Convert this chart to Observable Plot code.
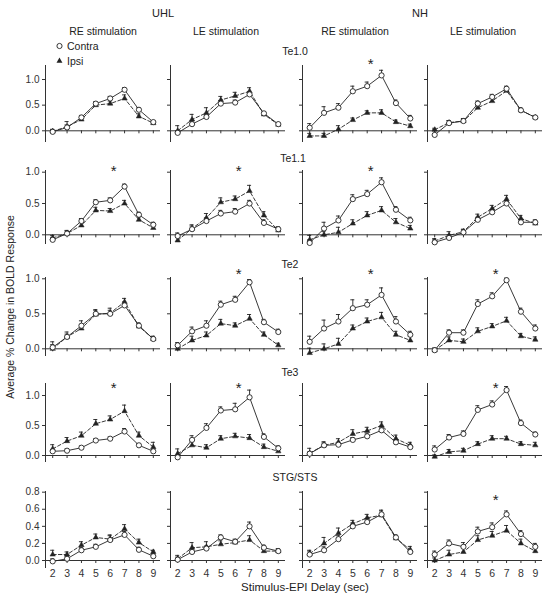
<!DOCTYPE html>
<html>
<head>
<meta charset="utf-8">
<script src="https://cdn.jsdelivr.net/npm/d3@7"></script>
<script src="https://cdn.jsdelivr.net/npm/@observablehq/plot@0.6"></script>
<style>
  html, body { margin: 0; padding: 0; background: white; }
  #chart { position: relative; width: 553px; height: 600px; font-family: "Liberation Sans", Arial, sans-serif; color: #222; overflow: hidden; }
  .lbl { position: absolute; white-space: nowrap; font-size: 10.5px; line-height: 1; transform: translate(-50%, -50%); }
  .lbl.left { transform: translate(0, -50%); }
</style>
</head>
<body>
<div id="chart"></div>
<script>
// ---------------- data ----------------
const delays = [2, 3, 4, 5, 6, 7, 8, 9];
const groups = ["UHL", "NH"];
const columnTitles = ["RE stimulation", "LE stimulation", "RE stimulation", "LE stimulation"];
const regions = ["Te1.0", "Te1.1", "Te2", "Te3", "STG/STS"];
const seriesNames = ["Contra", "Ipsi"];
const yTicksMain = [0, 0.5, 1.0];
const yTicksSTG = [0, 0.2, 0.4, 0.6, 0.8];
const yAxisTitle = "Average % Change in BOLD Response";
const xAxisTitle = "Stimulus-EPI Delay (sec)";

// each region: 4 panels (UHL RE, UHL LE, NH RE, NH LE) x 8 delays
const te10Contra = [
  [-0.02, 0.065, 0.26, 0.53, 0.63, 0.80, 0.41, 0.17],
  [-0.04, 0.13, 0.27, 0.53, 0.55, 0.71, 0.34, 0.13],
  [0.06, 0.35, 0.45, 0.77, 0.87, 1.08, 0.54, 0.24],
  [-0.08, 0.15, 0.19, 0.53, 0.66, 0.82, 0.40, 0.26]];
const te10ContraSE = [
  [0.04, 0.05, 0.04, 0.04, 0.04, 0.04, 0.04, 0.03],
  [0.04, 0.05, 0.05, 0.06, 0.05, 0.05, 0.03, 0.03],
  [0.08, 0.12, 0.08, 0.10, 0.08, 0.10, 0.06, 0.06],
  [0.10, 0.05, 0.05, 0.05, 0.05, 0.05, 0.04, 0.04]];
const te10Ipsi = [
  [-0.01, 0.08, 0.22, 0.50, 0.53, 0.63, 0.28, 0.15],
  [0.00, 0.22, 0.35, 0.60, 0.68, 0.77, 0.32, 0.12],
  [-0.10, -0.10, 0.03, 0.21, 0.35, 0.35, 0.17, 0.09],
  [0.02, 0.16, 0.19, 0.45, 0.58, 0.78, 0.40, 0.26]];
const te10IpsiSE = [
  [0.04, 0.10, 0.05, 0.05, 0.05, 0.07, 0.05, 0.03],
  [0.10, 0.10, 0.10, 0.07, 0.07, 0.07, 0.04, 0.03],
  [0.05, 0.05, 0.07, 0.04, 0.04, 0.06, 0.04, 0.04],
  [0.03, 0.04, 0.04, 0.05, 0.05, 0.05, 0.04, 0.03]];

const te11Contra = [
  [-0.08, 0.02, 0.22, 0.52, 0.55, 0.77, 0.32, 0.16],
  [-0.02, 0.09, 0.22, 0.34, 0.37, 0.50, 0.19, 0.09],
  [-0.13, 0.10, 0.23, 0.57, 0.65, 0.84, 0.40, 0.23],
  [-0.12, -0.05, 0.04, 0.24, 0.36, 0.50, 0.20, 0.20]];
const te11ContraSE = [
  [0.04, 0.04, 0.04, 0.04, 0.04, 0.04, 0.04, 0.04],
  [0.05, 0.05, 0.05, 0.05, 0.05, 0.05, 0.05, 0.04],
  [0.05, 0.10, 0.07, 0.07, 0.06, 0.07, 0.05, 0.05],
  [0.04, 0.05, 0.04, 0.04, 0.04, 0.05, 0.04, 0.04]];
const te11Ipsi = [
  [-0.05, 0.02, 0.15, 0.39, 0.38, 0.50, 0.24, 0.11],
  [-0.09, 0.10, 0.27, 0.52, 0.57, 0.70, 0.31, 0.07],
  [-0.08, 0.00, 0.04, 0.18, 0.31, 0.39, 0.20, 0.10],
  [-0.10, -0.01, 0.05, 0.28, 0.42, 0.57, 0.26, 0.18]];
const te11IpsiSE = [
  [0.04, 0.05, 0.05, 0.05, 0.04, 0.05, 0.04, 0.04],
  [0.10, 0.06, 0.07, 0.07, 0.05, 0.09, 0.06, 0.04],
  [0.07, 0.05, 0.08, 0.06, 0.06, 0.06, 0.06, 0.05],
  [0.04, 0.06, 0.04, 0.05, 0.05, 0.06, 0.05, 0.04]];

const te2Contra = [
  [0.02, 0.17, 0.33, 0.50, 0.50, 0.62, 0.33, 0.14],
  [0.05, 0.25, 0.33, 0.63, 0.70, 0.95, 0.38, 0.24],
  [0.10, 0.29, 0.39, 0.58, 0.63, 0.77, 0.39, 0.20],
  [-0.02, 0.23, 0.23, 0.64, 0.75, 0.98, 0.53, 0.29]];
const te2ContraSE = [
  [0.04, 0.04, 0.07, 0.05, 0.05, 0.05, 0.04, 0.04],
  [0.04, 0.06, 0.07, 0.05, 0.05, 0.04, 0.04, 0.04],
  [0.08, 0.12, 0.10, 0.12, 0.07, 0.10, 0.07, 0.05],
  [0.03, 0.04, 0.04, 0.06, 0.05, 0.03, 0.05, 0.05]];
const te2Ipsi = [
  [0.00, 0.17, 0.29, 0.49, 0.51, 0.67, 0.32, 0.14],
  [0.00, 0.12, 0.19, 0.36, 0.33, 0.43, 0.20, 0.05],
  [-0.06, 0.00, 0.07, 0.29, 0.39, 0.45, 0.20, 0.12],
  [-0.02, 0.12, 0.10, 0.25, 0.32, 0.40, 0.18, 0.13]];
const te2IpsiSE = [
  [0.10, 0.07, 0.06, 0.07, 0.07, 0.05, 0.04, 0.03],
  [0.04, 0.06, 0.05, 0.06, 0.04, 0.06, 0.04, 0.03],
  [0.07, 0.07, 0.08, 0.05, 0.05, 0.07, 0.05, 0.06],
  [0.03, 0.05, 0.04, 0.05, 0.04, 0.05, 0.04, 0.04]];

const te3Contra = [
  [0.07, 0.08, 0.13, 0.25, 0.28, 0.40, 0.17, 0.07],
  [-0.03, 0.26, 0.46, 0.75, 0.77, 0.97, 0.31, 0.12],
  [0.03, 0.17, 0.18, 0.26, 0.32, 0.42, 0.22, 0.14],
  [0.10, 0.30, 0.36, 0.76, 0.85, 1.09, 0.54, 0.35]];
const te3ContraSE = [
  [0.03, 0.03, 0.03, 0.03, 0.03, 0.05, 0.03, 0.03],
  [0.03, 0.07, 0.07, 0.06, 0.10, 0.12, 0.05, 0.04],
  [0.03, 0.04, 0.04, 0.04, 0.04, 0.04, 0.04, 0.04],
  [0.06, 0.05, 0.05, 0.07, 0.06, 0.06, 0.05, 0.04]];
const te3Ipsi = [
  [0.11, 0.24, 0.33, 0.53, 0.60, 0.74, 0.33, 0.14],
  [0.03, 0.17, 0.13, 0.28, 0.32, 0.29, 0.14, 0.07],
  [0.04, 0.17, 0.22, 0.36, 0.41, 0.50, 0.28, 0.17],
  [-0.02, 0.06, 0.08, 0.19, 0.28, 0.28, 0.19, 0.17]];
const te3IpsiSE = [
  [0.07, 0.06, 0.06, 0.07, 0.06, 0.10, 0.06, 0.08],
  [0.08, 0.06, 0.05, 0.05, 0.05, 0.06, 0.05, 0.04],
  [0.08, 0.06, 0.06, 0.07, 0.06, 0.06, 0.06, 0.05],
  [0.03, 0.04, 0.04, 0.04, 0.05, 0.04, 0.04, 0.05]];

const stgContra = [
  [-0.01, 0.02, 0.12, 0.16, 0.24, 0.30, 0.125, 0.05],
  [0.01, 0.10, 0.14, 0.27, 0.22, 0.40, 0.15, 0.11],
  [0.07, 0.12, 0.25, 0.40, 0.45, 0.54, 0.27, 0.10],
  [0.07, 0.20, 0.16, 0.34, 0.39, 0.54, 0.31, 0.16]];
const stgContraSE = [
  [0.03, 0.03, 0.03, 0.03, 0.06, 0.04, 0.03, 0.03],
  [0.03, 0.03, 0.03, 0.03, 0.03, 0.05, 0.03, 0.03],
  [0.04, 0.04, 0.04, 0.04, 0.04, 0.04, 0.03, 0.03],
  [0.04, 0.04, 0.05, 0.05, 0.05, 0.04, 0.04, 0.04]];
const stgIpsi = [
  [0.07, 0.07, 0.18, 0.27, 0.25, 0.37, 0.21, 0.10],
  [0.02, 0.15, 0.16, 0.19, 0.21, 0.24, 0.11, 0.11],
  [0.08, 0.20, 0.32, 0.43, 0.50, 0.53, 0.26, 0.125],
  [0.00, 0.07, 0.10, 0.24, 0.29, 0.35, 0.20, 0.11]];
const stgIpsiSE = [
  [0.05, 0.03, 0.04, 0.04, 0.04, 0.05, 0.04, 0.02],
  [0.04, 0.06, 0.06, 0.04, 0.03, 0.05, 0.04, 0.02],
  [0.04, 0.07, 0.06, 0.04, 0.04, 0.06, 0.03, 0.04],
  [0.03, 0.05, 0.05, 0.05, 0.05, 0.06, 0.05, 0.05]];

// panels (column indices) that carry a significance asterisk, per region
const te10Stars = [2];
const te11Stars = [0, 1, 2];
const te2Stars = [1, 2, 3];
const te3Stars = [0, 1, 3];
const stgStars = [3];
const starDelay = 6.25;

const regionData = [
  [te10Contra, te10ContraSE, te10Ipsi, te10IpsiSE, te10Stars],
  [te11Contra, te11ContraSE, te11Ipsi, te11IpsiSE, te11Stars],
  [te2Contra, te2ContraSE, te2Ipsi, te2IpsiSE, te2Stars],
  [te3Contra, te3ContraSE, te3Ipsi, te3IpsiSE, te3Stars],
  [stgContra, stgContraSE, stgIpsi, stgIpsiSE, stgStars]
];

// ---------------- layout (page pixels) ----------------
const rowGeo = [
  {top: 65,  zero: 130.3, ppu: 51.3, bottom: 142, star: 1.36, label: [295, 51]},
  {top: 170, zero: 234.3, ppu: 62.6, bottom: 244, star: 1.07, label: [293, 158]},
  {top: 277, zero: 348.3, ppu: 70.0, bottom: 356, star: 1.11, label: [290, 264]},
  {top: 383, zero: 455.0, ppu: 60.0, bottom: 462, star: 1.18, label: [290, 372]},
  {top: 491, zero: 560.0, ppu: 85.4, bottom: 568, star: 0.75, label: [295, 477]}
];
const colAxisX = [45, 170, 302, 427];
const frameW = 115;

const ink = "#222";
const chart = document.getElementById("chart");

function addLabel(text, x, y, cls, extra) {
  const d = document.createElement("div");
  d.className = "lbl" + (cls ? " " + cls : "");
  d.textContent = text;
  d.style.left = x + "px";
  d.style.top = y + "px";
  if (extra) Object.assign(d.style, extra);
  chart.appendChild(d);
  return d;
}

function panel(r, c) {
  const g = rowGeo[r];
  const [contra, contraSE, ipsi, ipsiSE, stars] = regionData[r];
  const data = [];
  delays.forEach((x, i) => {
    data.push({x, v: contra[c][i], e: contraSE[c][i], s: "Contra"});
    data.push({x, v: ipsi[c][i], e: ipsiSE[c][i], s: "Ipsi"});
  });
  const C = data.filter(d => d.s === "Contra");
  const I = data.filter(d => d.s === "Ipsi");
  const isLast = r === regions.length - 1;
  const yTop = (g.zero - g.top) / g.ppu;
  const yBot = -(g.bottom - g.zero) / g.ppu;
  const mL = 32, mR = 8, mT = 18;
  const mB = (g.bottom - g.zero) + (isLast ? 26 : 4);
  const frameH = g.zero - g.top;
  const W = mL + frameW + mR;
  const H = mT + frameH + mB;
  const ticks = isLast ? yTicksSTG : yTicksMain;
  const marks = [
    Plot.ruleX([1.5], {y1: yBot, y2: yTop, stroke: "#333", strokeWidth: 1}),
    Plot.ruleY([0], {x1: 1.5, x2: 9.5, stroke: "#333", strokeWidth: 1}),
    Plot.axisY({ticks, tickSize: 3, tickPadding: 3, label: null, stroke: "#333",
      fontSize: 10, fill: "#333",
      tickFormat: c === 0 ? d3.format(".1f") : () => ""}),
    Plot.axisX({ticks: delays, tickSize: 3, tickPadding: 6, label: null, stroke: "#333",
      fontSize: 10.5, fill: "#333",
      tickFormat: isLast ? d => String(d) : () => ""}),
    // error bars (one-sided, upward)
    Plot.ruleX(data, {x: "x", y1: "v", y2: d => d.v + d.e, stroke: ink, strokeWidth: 0.9}),
    Plot.ruleY(data, {y: d => d.v + d.e, x1: d => d.x - 0.14, x2: d => d.x + 0.14, stroke: ink, strokeWidth: 0.9}),
    Plot.line(I, {x: "x", y: "v", stroke: ink, strokeWidth: 0.9, strokeDasharray: "3.5,2.2"}),
    Plot.line(C, {x: "x", y: "v", stroke: ink, strokeWidth: 0.9}),
    Plot.dot(I, {x: "x", y: "v", symbol: "triangle", r: 2.0, fill: ink, stroke: ink, strokeWidth: 0.5}),
    Plot.dot(C, {x: "x", y: "v", symbol: "circle", r: 2.6, fill: "white", stroke: ink, strokeWidth: 0.9})
  ];
  if (stars.includes(c)) {
    marks.push(Plot.text([starDelay], {x: d => d, y: () => g.star, text: () => "*", fontSize: 15, fill: ink, dy: 3.5}));
  }
  const svg = Plot.plot({
    width: W, height: H,
    marginLeft: mL, marginRight: mR, marginTop: mT, marginBottom: mB,
    x: {domain: [1.5, 9.5]},
    y: {domain: [0, yTop]},
    style: {background: "transparent", overflow: "visible", fontFamily: "Liberation Sans, Arial, sans-serif", color: "#333"},
    marks
  });
  svg.style.position = "absolute";
  svg.style.left = (colAxisX[c] - mL) + "px";
  svg.style.top = (g.top - mT) + "px";
  svg.style.maxWidth = "none";
  chart.appendChild(svg);
}

for (let r = 0; r < regions.length; r++) {
  for (let c = 0; c < 4; c++) panel(r, c);
}

// headers
addLabel(groups[0], 163, 13, "", {fontSize: "11px"});
addLabel(groups[1], 420, 13, "", {fontSize: "11px"});
const headerX = [103, 226, 355, 483];
columnTitles.forEach((t, i) => addLabel(t, headerX[i], 31, "", {fontSize: "10.5px"}));
regions.forEach((t, r) => addLabel(t, rowGeo[r].label[0], rowGeo[r].label[1], "", {fontSize: "10.5px"}));

// legend
const ns = "http://www.w3.org/2000/svg";
const leg = document.createElementNS(ns, "svg");
leg.setAttribute("width", 20); leg.setAttribute("height", 30);
leg.style.position = "absolute"; leg.style.left = "50px"; leg.style.top = "38px";
const circ = document.createElementNS(ns, "circle");
circ.setAttribute("cx", 9.5); circ.setAttribute("cy", 8); circ.setAttribute("r", 2.6);
circ.setAttribute("fill", "white"); circ.setAttribute("stroke", ink); circ.setAttribute("stroke-width", 0.9);
leg.appendChild(circ);
const tri = document.createElementNS(ns, "path");
tri.setAttribute("d", d3.symbol(d3.symbolTriangle, Math.PI * 2.2 * 2.2)());
tri.setAttribute("transform", "translate(9.5,23)");
tri.setAttribute("fill", ink);
leg.appendChild(tri);
chart.appendChild(leg);
addLabel(seriesNames[0], 67, 46, "left", {fontSize: "10.5px"});
addLabel(seriesNames[1], 67, 61, "left", {fontSize: "10.5px"});

// axis titles
addLabel(yAxisTitle, 10, 307, "", {fontSize: "10.5px", transform: "translate(-50%, -50%) rotate(-90deg)"});
addLabel(xAxisTitle, 305, 588, "", {fontSize: "11.5px"});
</script>
</body>
</html>
